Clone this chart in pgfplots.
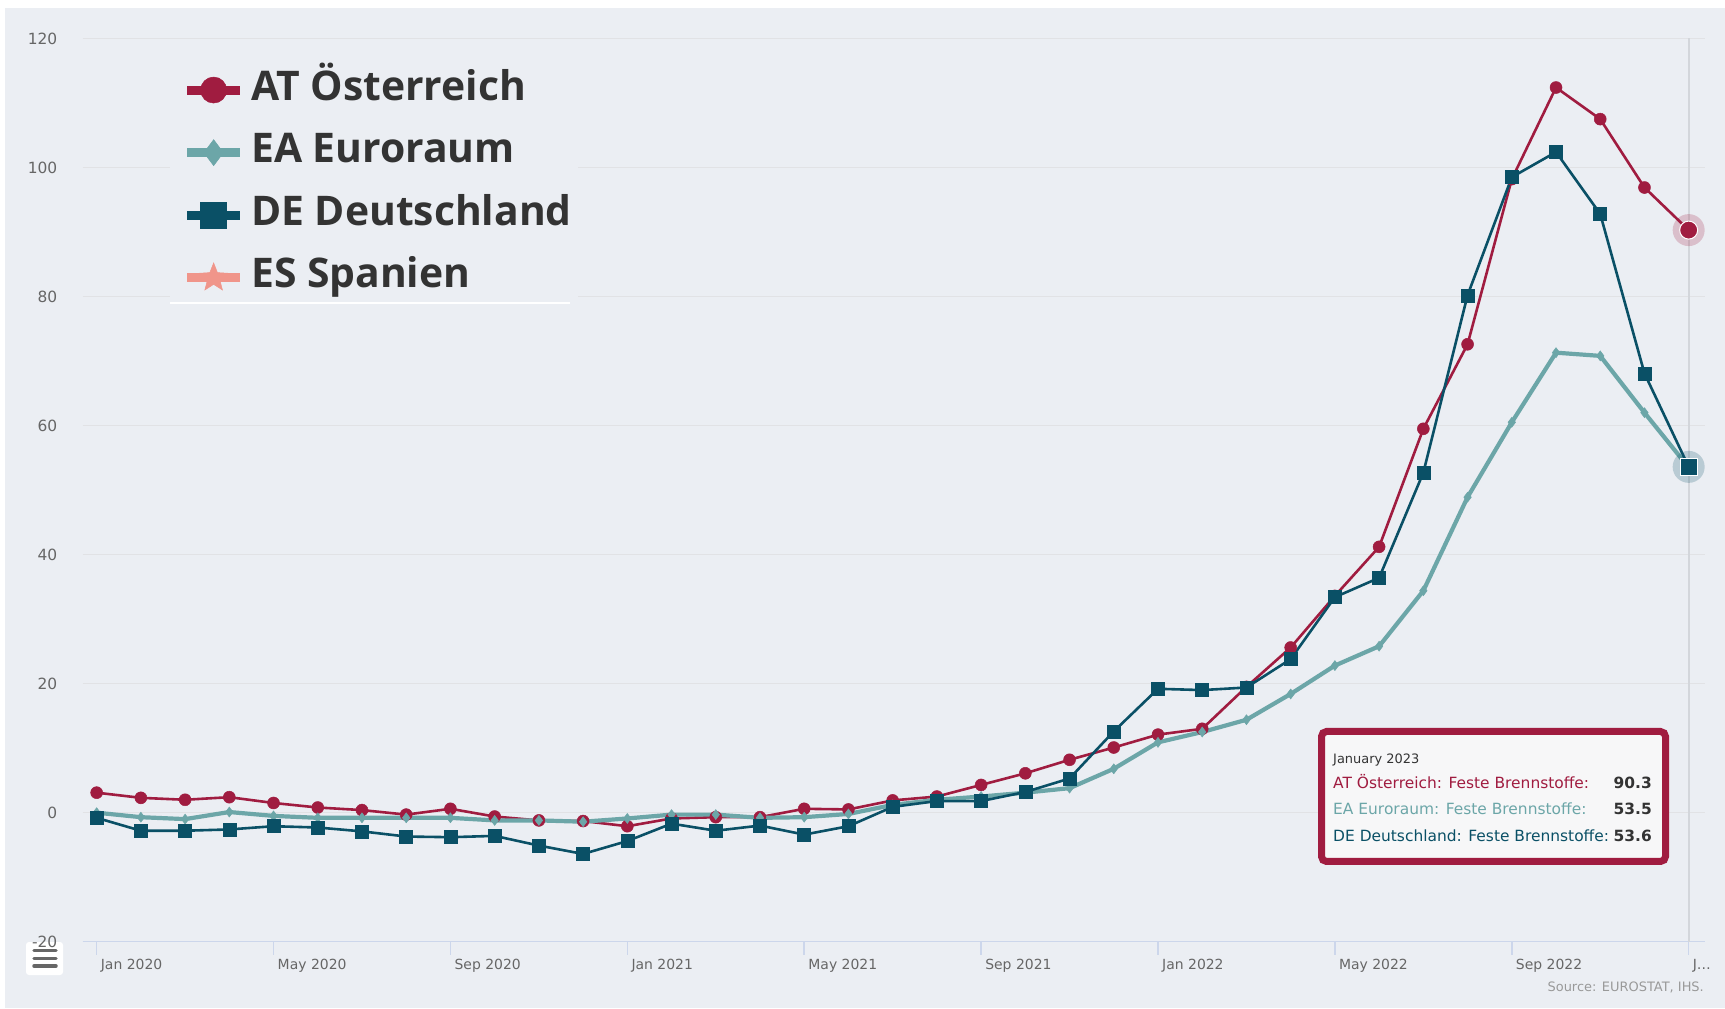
\documentclass[border=0pt]{standalone}
\usepackage{fontspec}
\setmainfont{Open Sans}
\newfontfamily\dejavu{DejaVu Sans}
\usepackage{pgfplots}
\usepackage{pgfplotstable}
\pgfplotsset{compat=1.18}
\usetikzlibrary{plotmarks}
\definecolor{bgcol}{HTML}{EBEEF3}
\definecolor{gridcol}{HTML}{E1E2E5}
\definecolor{axcol}{HTML}{CCD6EB}
\definecolor{atcol}{HTML}{A01C40}
\definecolor{eacol}{HTML}{6CA6A8}
\definecolor{decol}{HTML}{0A5066}
\definecolor{escol}{HTML}{F0958A}
\definecolor{txtgray}{HTML}{666666}
\definecolor{txtdark}{HTML}{333333}
\definecolor{srcgray}{HTML}{999999}
\definecolor{crosscol}{HTML}{D3D6DB}
\definecolor{tipfill}{HTML}{F7F7F8}

\pgfdeclareplotmark{fstar}{%
  \pgfpathmoveto{\pgfpointpolar{90}{1.15\pgfplotmarksize}}%
  \pgfpathlineto{\pgfpointpolar{126}{0.5\pgfplotmarksize}}%
  \pgfpathlineto{\pgfpointpolar{162}{1.15\pgfplotmarksize}}%
  \pgfpathlineto{\pgfpointpolar{198}{0.5\pgfplotmarksize}}%
  \pgfpathlineto{\pgfpointpolar{234}{1.15\pgfplotmarksize}}%
  \pgfpathlineto{\pgfpointpolar{270}{0.5\pgfplotmarksize}}%
  \pgfpathlineto{\pgfpointpolar{306}{1.15\pgfplotmarksize}}%
  \pgfpathlineto{\pgfpointpolar{342}{0.5\pgfplotmarksize}}%
  \pgfpathlineto{\pgfpointpolar{18}{1.15\pgfplotmarksize}}%
  \pgfpathlineto{\pgfpointpolar{54}{0.5\pgfplotmarksize}}%
  \pgfpathclose
  \pgfusepathqfillstroke
}

\pgfplotstableread{
x  at     ea     de
0  3.1    0.0   -0.8
1  2.3   -0.7   -2.8
2  2.0   -1.0   -2.8
3  2.4    0.1   -2.6
4  1.5   -0.5   -2.1
5  0.8   -0.8   -2.3
6  0.4   -0.8   -2.9
7 -0.3   -0.8   -3.7
8  0.6   -0.8   -3.8
9 -0.6   -1.2   -3.6
10 -1.2  -1.2   -5.1
11 -1.3  -1.4   -6.4
12 -2.1  -0.9   -4.4
13 -0.9  -0.3   -1.7
14 -0.7  -0.3   -2.8
15 -0.7  -0.8   -2.0
16  0.6  -0.7   -3.4
17  0.5  -0.2   -2.1
18  1.9   1.2    0.9
19  2.5   2.0    1.8
20  4.3   2.5    1.8
21  6.1   3.1    3.2
22  8.2   3.8    5.3
23 10.1   6.8   12.6
24 12.1  10.9   19.2
25 13.0  12.5   19.0
26 19.5  14.4   19.4
27 25.6  18.4   23.8
28 33.6  22.8   33.4
29 41.2  25.8   36.4
30 59.5  34.4   52.7
31 72.6  48.9   80.2
32 98.2  60.5   98.5
33 112.4 71.3  102.4
34 107.5 70.8   92.8
35 96.9  62.0   68.1
36 90.3  53.5   53.6
}\datatable

\begin{document}
\begin{tikzpicture}[x=1bp,y=1bp]
\useasboundingbox (0,0) rectangle (1725,1008);
\fill[white] (0,0) rectangle (1725,1008);
\fill[bgcol] (5,0) rectangle (1725,1000);

% menu button (drawn first, the -20 label lies over it)
\fill[white, rounded corners=3bp] (26,33) rectangle (63,66);
\draw[txtgray, line width=3.5bp, line cap=round] (34,57.3) -- (56,57.3);
\draw[txtgray, line width=3.5bp, line cap=round] (34,49.7) -- (56,49.7);
\draw[txtgray, line width=3.5bp, line cap=round] (34,42) -- (56,42);

\begin{axis}[
  at={(82.5bp,66.3bp)}, anchor=south west,
  scale only axis, width=1622.5bp, height=903.2bp,
  xmin=-0.32, xmax=36.37, ymin=-20, ymax=120,
  clip=false,
  axis x line*=bottom, axis y line*=left,
  x axis line style={draw=axcol, line width=1.5bp, -},
  y axis line style={draw=none},
  xtick={0,4,8,12,16,20,24,28,32,36},
  xticklabels={Jan 2020,May 2020,Sep 2020,Jan 2021,May 2021,Sep 2021,Jan 2022,May 2022,Sep 2022,J\ldots},
  ytick={-20,0,20,40,60,80,100,120},
  yticklabels={-20,0,20,40,60,80,100,120},
  tick align=outside,
  major tick length=13bp,
  xtick style={draw=axcol, line width=1.5bp},
  ytick style={draw=none},
  xticklabel style={anchor=north west, inner sep=0bp, xshift=4bp, yshift=-4bp,
    font=\dejavu\fontsize{14}{16}\selectfont, text=txtgray},
  yticklabel style={anchor=east, inner sep=0bp, xshift=-12bp,
    font=\dejavu\fontsize{15.5}{17}\selectfont, text=txtgray},
  ymajorgrids,
  major grid style={draw=gridcol, line width=1.5bp},
  legend cell align=left,
  legend style={
    at={(axis description cs:0.0539,0.973)}, anchor=north west,
    fill=bgcol, draw=none, inner xsep=6bp, inner ysep=8bp,
    font=\bfseries\fontsize{41}{41}\selectfont, text=txtdark,
    row sep=24.6bp,
    nodes={inner sep=0bp, text height=29bp, text depth=9bp},
  },
  legend image code/.code={%
    \path[draw=none, fill=none] (-11bp,0bp) rectangle (64bp,0.1bp);
    \draw[line width=9bp, mark=none] (0bp,0bp) -- (53bp,0bp);
    \draw[mark size=13bp] plot coordinates {(26.5bp,0bp)};
  },
]
\draw[crosscol, line width=2bp] (axis cs:36,-20) -- (axis cs:36,120);

\addplot[color=atcol, line width=2.6bp, mark=*, mark size=6bp,
  mark options={solid, line width=0.5bp}] table[x=x, y=at] {\datatable};
\addlegendentry{AT Österreich}
\addplot[color=eacol, line width=4.2bp, mark=diamond*, mark size=5bp,
  mark options={solid, line width=0.5bp}] table[x=x, y=ea] {\datatable};
\addlegendentry{EA Euroraum}
\addplot[color=decol, line width=2.6bp, mark=square*, mark size=6.5bp,
  mark options={solid, line width=0.5bp}] table[x=x, y=de] {\datatable};
\addlegendentry{DE Deutschland}
\addlegendimage{color=escol, line width=2.6bp, mark=fstar, mark options={solid, line width=0.5bp}}
\addlegendentry{ES Spanien}

\addplot[forget plot, only marks, mark=*, mark size=16bp, color=atcol,
  mark options={fill opacity=0.22, draw opacity=0}] coordinates {(36,90.3)};
\addplot[forget plot, only marks, mark=*, mark size=9bp,
  mark options={fill=atcol, draw=white, line width=1bp}] coordinates {(36,90.3)};
\addplot[forget plot, only marks, mark=*, mark size=16bp, color=decol,
  mark options={fill opacity=0.22, draw opacity=0}] coordinates {(36,53.6)};
\addplot[forget plot, only marks, mark=square*, mark size=8.5bp,
  mark options={fill=decol, draw=white, line width=1bp}] coordinates {(36,53.6)};
\end{axis}

% white rule under the legend
\draw[white, line width=2bp] (170,705) -- (570,705);

% tooltip
\draw[atcol, line width=7bp, fill=tipfill, rounded corners=5bp] (1321.5,146.5) rectangle (1665.5,276.5);
\node[anchor=base west, inner sep=0, font=\dejavu\fontsize{13}{15}\selectfont, text=txtdark] at (1333,244.5) {January 2023};
\node[anchor=base west, inner sep=0, font=\dejavu\fontsize{15.5}{17}\selectfont, text=atcol] at (1333,219.5) {AT Österreich: Feste Brennstoffe:};
\node[anchor=base east, inner sep=0, font=\dejavu\bfseries\fontsize{15.5}{17}\selectfont, text=txtdark] at (1652,219.5) {90.3};
\node[anchor=base west, inner sep=0, font=\dejavu\fontsize{15.5}{17}\selectfont, text=eacol] at (1333,193.5) {EA Euroraum: Feste Brennstoffe:};
\node[anchor=base east, inner sep=0, font=\dejavu\bfseries\fontsize{15.5}{17}\selectfont, text=txtdark] at (1652,193.5) {53.5};
\node[anchor=base west, inner sep=0, font=\dejavu\fontsize{15.5}{17}\selectfont, text=decol] at (1333,166.5) {DE Deutschland: Feste Brennstoffe:};
\node[anchor=base east, inner sep=0, font=\dejavu\bfseries\fontsize{15.5}{17}\selectfont, text=txtdark] at (1652,166.5) {53.6};

% source
\node[anchor=base east, inner sep=0, font=\dejavu\fontsize{13}{15}\selectfont, text=srcgray] at (1704,16.5) {Source: EUROSTAT, IHS.};
\end{tikzpicture}
\end{document}
